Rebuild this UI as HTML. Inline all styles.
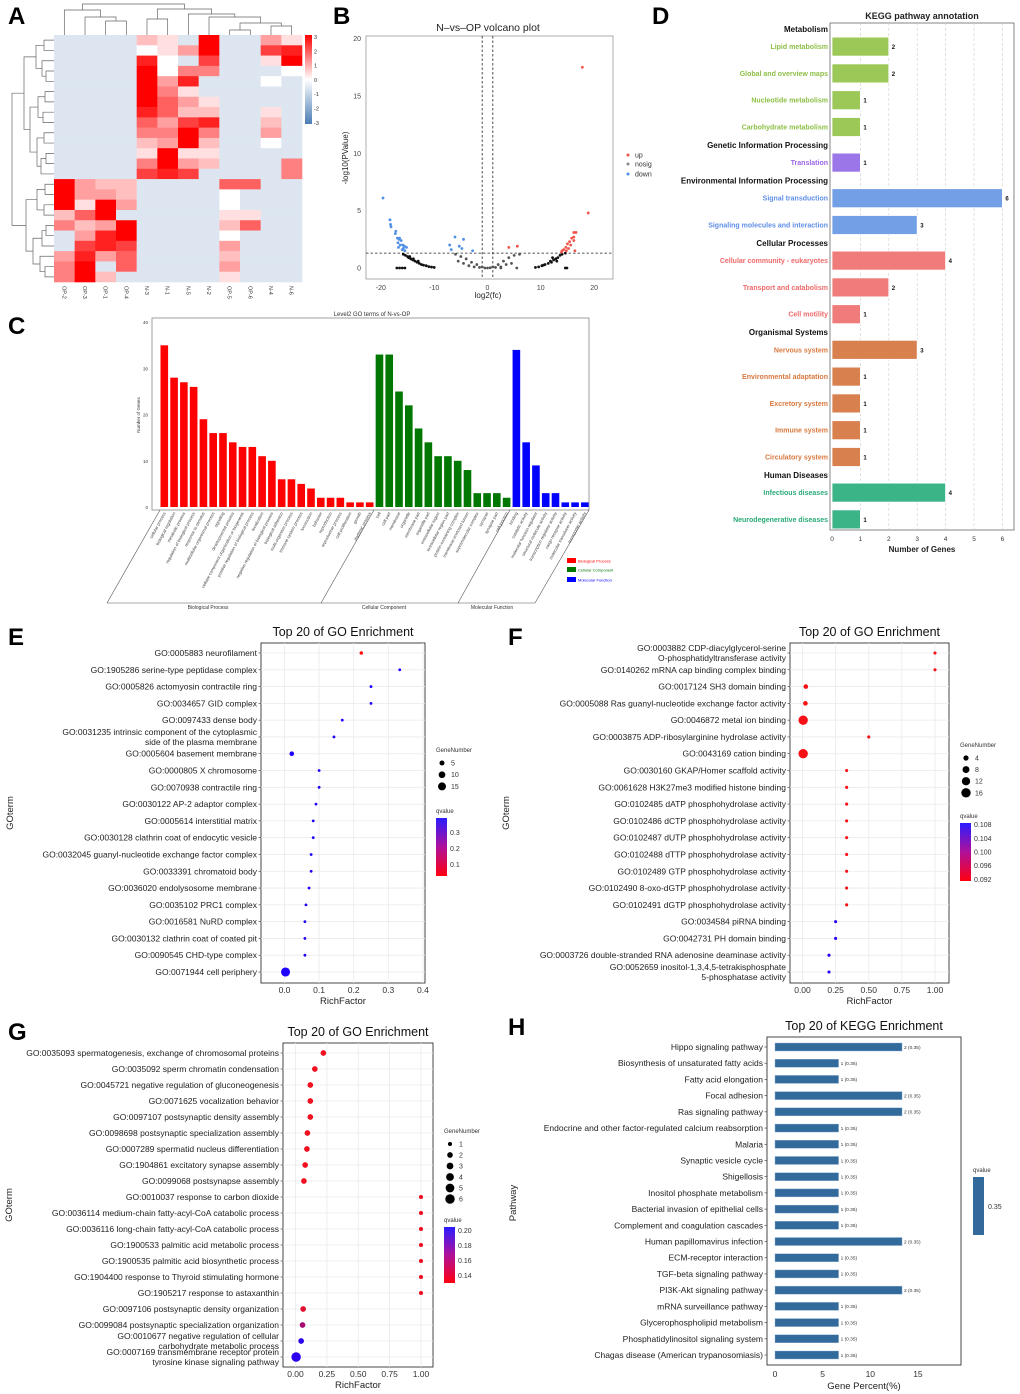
<!DOCTYPE html>
<html><head><meta charset="utf-8"><title>Figure</title>
<style>
html,body{margin:0;padding:0;background:#fff;}
svg{display:block;font-family:"Liberation Sans",Arial,sans-serif;}
</style></head>
<body>
<svg id="fig" width="1020" height="1394" viewBox="0 0 1020 1394" xmlns="http://www.w3.org/2000/svg">
<defs>
<linearGradient id="gHeat" x1="0" y1="0" x2="0" y2="1"><stop offset="0" stop-color="#ff0000"/><stop offset="0.5" stop-color="#ffffff"/><stop offset="1" stop-color="#4a7db4"/></linearGradient>
<linearGradient id="gQ" x1="0" y1="0" x2="0" y2="1"><stop offset="0" stop-color="#2a1cff"/><stop offset="0.5" stop-color="#b0109a"/><stop offset="1" stop-color="#ff0010"/></linearGradient>
</defs>
</svg>
<script>
// ---------- DATA ----------
const heatCols = ['OP-2','OP-3','OP-1','OP-4','N-3','N-1','N-5','N-2','OP-5','OP-6','N-4','N-6'];
const heatRows = ['000032090042','000012490078','000081070029','000091550001','000094800010','000095200000','000096420000','000086330020','000064780030','000055950040','000034930010','000029220000','000059430005','000078700005','943300006600','944300001000','929400001000','369000002200','534900003600','048900001000','078700004000','484600003000','590600004000','593000002000'];

const volDown = [[-19.6,6.1],[-18.3,4.2],[-18.2,3.8],[-18.1,3.6],[-17.2,3.2],[-17.3,3.0],[-16.9,2.6],[-16.5,2.6],[-16.2,2.4],[-16.8,2.2],[-16.4,2.0],[-15.9,2.0],[-15.6,1.9],[-16.7,1.8],[-15.2,1.8],[-16.0,1.6],[-15.5,1.5],[-16.6,2.5],[-15.8,1.7],[-6.1,2.7],[-4.5,2.5],[-5.3,1.9],[-7.1,2.0],[-4.8,1.7],[-6.8,1.6],[-2.8,1.5]];
const volUp = [[17.8,17.5],[18.9,4.8],[16.6,3.1],[16.2,3.1],[16.2,2.7],[15.8,2.6],[16.2,2.4],[15.4,2.3],[15.0,2.1],[14.7,1.8],[14.3,1.6],[14.0,1.5],[13.9,1.4],[15.6,2.0],[16.4,1.5],[15.2,1.7],[14.8,1.5],[4.0,1.8],[5.6,1.9]];
const volNo = [[-15.8,1.2],[-15.4,1.1],[-15.0,1.0],[-14.8,0.9],[-14.4,0.8],[-14.0,0.7],[-13.6,0.6],[-13.2,0.5],[-12.8,0.4],[-12.4,0.3],[-12.0,0.25],[-11.5,0.2],[-11.0,0.12],[-10.5,0.08],[-10.0,0.05],[-14.6,1.0],[-13.9,0.8],[-13.0,0.6],[-17,0],[-16.5,0],[-16,0],[-15.5,0],[-6,1.2],[-5,1.0],[-4,0.8],[-3,0.5],[-2,0.3],[-1,0.1],[0,0],[1,0.1],[2,0.3],[3,0.6],[4,0.9],[5,1.1],[6,1.2],[-5.5,0.6],[-4.5,0.4],[-3.5,0.2],[-2.5,0.1],[-1.5,0.05],[-0.5,0],[0.5,0.02],[1.5,0.05],[2.5,0.1],[3.5,0.3],[4.5,0.4],[5.5,0],[2.5,0],[9,0.05],[9.6,0.1],[10.2,0.2],[10.8,0.3],[11.4,0.4],[12,0.5],[12.4,0.7],[12.8,0.8],[13.2,0.9],[13.6,1.1],[14.0,1.2],[14.6,1.3],[13,0.6],[12.2,0.9],[14.6,0],[14.9,0],[11.8,0.6],[10.5,0.25]];

const goCats = ['cellular process','biological regulation','metabolic process','regulation of biological process','response to stimulus','multicellular organismal process','signaling','developmental process','cellular component organization or biogenesis','positive regulation of biological process','localization','negative regulation of biological process','biological adhesion','multi-organism process','immune system process','locomotion','behavior','reproduction','reproductive process','cell proliferation','growth','rhythmic process','cell','cell part','membrane','organelle','membrane part','organelle part','extracellular region','extracellular region part','protein-containing complex','membrane-enclosed lumen','supramolecular complex','synapse','synapse part','cell junction','binding','catalytic activity','molecular function regulator','structural molecule activity','transcription regulator activity','cargo receptor activity','molecular transducer activity','transporter activity'];
const goCounts = [35,28,27,26,19,16,16,14,13,13,11,10,6,6,5,4,2,2,2,1,1,1,33,33,25,22,17,14,11,11,10,8,3,3,3,2,34,14,9,3,3,1,1,1];
const goGroup = ['BP','BP','BP','BP','BP','BP','BP','BP','BP','BP','BP','BP','BP','BP','BP','BP','BP','BP','BP','BP','BP','BP','CC','CC','CC','CC','CC','CC','CC','CC','CC','CC','CC','CC','CC','CC','MF','MF','MF','MF','MF','MF','MF','MF'];
const goTicks = [0,10,20,30,40];

const keggRows = ['Metabolism','Lipid metabolism','Global and overview maps','Nucleotide metabolism','Carbohydrate metabolism','Genetic Information Processing','Translation','Environmental Information Processing','Signal transduction','Signaling molecules and interaction','Cellular Processes','Cellular community - eukaryotes','Transport and catabolism','Cell motility','Organismal Systems','Nervous system','Environmental adaptation','Excretory system','Immune system','Circulatory system','Human Diseases','Infectious diseases','Neurodegenerative diseases'];
const keggVals = [null,2,2,1,1,null,1,null,6,3,null,4,2,1,null,3,1,1,1,1,null,4,1];
const keggClass = ['h','m','m','m','m','h','g','h','e','e','h','c','c','c','h','o','o','o','o','o','h','d','d'];
const keggTicks = [0,1,2,3,4,5,6];

const eTerms = ['GO:0005883 neurofilament','GO:1905286 serine-type peptidase complex','GO:0005826 actomyosin contractile ring','GO:0034657 GID complex','GO:0097433 dense body','GO:0031235 intrinsic component of the cytoplasmic|side of the plasma membrane','GO:0005604 basement membrane','GO:0000805 X chromosome','GO:0070938 contractile ring','GO:0030122 AP-2 adaptor complex','GO:0005614 interstitial matrix','GO:0030128 clathrin coat of endocytic vesicle','GO:0032045 guanyl-nucleotide exchange factor complex','GO:0033391 chromatoid body','GO:0036020 endolysosome membrane','GO:0035102 PRC1 complex','GO:0016581 NuRD complex','GO:0030132 clathrin coat of coated pit','GO:0090545 CHD-type complex','GO:0071944 cell periphery'];
const eRich = [0.222,0.333,0.25,0.25,0.167,0.143,0.021,0.1,0.1,0.091,0.083,0.083,0.077,0.077,0.071,0.062,0.059,0.059,0.059,0.003];
const eGenes = [2,1,1,1,1,1,4,1,1,1,1,1,1,1,1,1,1,1,1,20];
const eQ = [0.02,0.39,0.39,0.39,0.39,0.39,0.39,0.39,0.39,0.39,0.39,0.39,0.39,0.39,0.39,0.39,0.39,0.39,0.39,0.39];
const eTicks = [0,0.1,0.2,0.3,0.4];
const eTickLabels = ['0.0','0.1','0.2','0.3','0.4'];

const fTerms = ['GO:0003882 CDP-diacylglycerol-serine|O-phosphatidyltransferase activity','GO:0140262 mRNA cap binding complex binding','GO:0017124 SH3 domain binding','GO:0005088 Ras guanyl-nucleotide exchange factor activity','GO:0046872 metal ion binding','GO:0003875 ADP-ribosylarginine hydrolase activity','GO:0043169 cation binding','GO:0030160 GKAP/Homer scaffold activity','GO:0061628 H3K27me3 modified histone binding','GO:0102485 dATP phosphohydrolase activity','GO:0102486 dCTP phosphohydrolase activity','GO:0102487 dUTP phosphohydrolase activity','GO:0102488 dTTP phosphohydrolase activity','GO:0102489 GTP phosphohydrolase activity','GO:0102490 8-oxo-dGTP phosphohydrolase activity','GO:0102491 dGTP phosphohydrolase activity','GO:0034584 piRNA binding','GO:0042731 PH domain binding','GO:0003726 double-stranded RNA adenosine deaminase activity','GO:0052659 inositol-1,3,4,5-tetrakisphosphate|5-phosphatase activity'];
const fRich = [1,1,0.025,0.022,0.005,0.5,0.005,0.333,0.333,0.333,0.333,0.333,0.333,0.333,0.333,0.333,0.25,0.25,0.2,0.2];
const fGenes = [1,1,3,3,16,1,16,1,1,1,1,1,1,1,1,1,1,1,1,1];
const fQ = [0.092,0.092,0.092,0.092,0.092,0.092,0.092,0.092,0.092,0.092,0.092,0.092,0.092,0.092,0.092,0.092,0.108,0.108,0.108,0.108];
const fTicks = [0,0.25,0.5,0.75,1];
const fTickLabels = ['0.00','0.25','0.50','0.75','1.00'];

const gTerms = ['GO:0035093 spermatogenesis, exchange of chromosomal proteins','GO:0035092 sperm chromatin condensation','GO:0045721 negative regulation of gluconeogenesis','GO:0071625 vocalization behavior','GO:0097107 postsynaptic density assembly','GO:0098698 postsynaptic specialization assembly','GO:0007289 spermatid nucleus differentiation','GO:1904861 excitatory synapse assembly','GO:0099068 postsynapse assembly','GO:0010037 response to carbon dioxide','GO:0036114 medium-chain fatty-acyl-CoA catabolic process','GO:0036116 long-chain fatty-acyl-CoA catabolic process','GO:1900533 palmitic acid metabolic process','GO:1900535 palmitic acid biosynthetic process','GO:1904400 response to Thyroid stimulating hormone','GO:1905217 response to astaxanthin','GO:0097106 postsynaptic density organization','GO:0099084 postsynaptic specialization organization','GO:0010677 negative regulation of cellular|carbohydrate metabolic process','GO:0007169 transmembrane receptor protein|tyrosine kinase signaling pathway'];
const gRich = [0.222,0.154,0.118,0.118,0.118,0.095,0.091,0.077,0.067,1,1,1,1,1,1,1,0.061,0.056,0.045,0.005];
const gGenes = [2,2,2,2,2,2,2,2,2,1,1,1,1,1,1,1,2,2,2,6];
const gQ = [0.135,0.135,0.135,0.135,0.135,0.135,0.135,0.135,0.135,0.135,0.135,0.135,0.135,0.135,0.135,0.135,0.14,0.16,0.2,0.2];
const gTicks = [0,0.25,0.5,0.75,1];
const gTickLabels = ['0.00','0.25','0.50','0.75','1.00'];

const hPaths = ['Hippo signaling pathway','Biosynthesis of unsaturated fatty acids','Fatty acid elongation','Focal adhesion','Ras signaling pathway','Endocrine and other factor-regulated calcium reabsorption','Malaria','Synaptic vesicle cycle','Shigellosis','Inositol phosphate metabolism','Bacterial invasion of epithelial cells','Complement and coagulation cascades','Human papillomavirus infection','ECM-receptor interaction','TGF-beta signaling pathway','PI3K-Akt signaling pathway','mRNA surveillance pathway','Glycerophospholipid metabolism','Phosphatidylinositol signaling system','Chagas disease (American trypanosomiasis)'];
const hCounts = [2,1,1,2,2,1,1,1,1,1,1,1,2,1,1,2,1,1,1,1];
const hPercent = [13.33,6.67,6.67,13.33,13.33,6.67,6.67,6.67,6.67,6.67,6.67,6.67,13.33,6.67,6.67,13.33,6.67,6.67,6.67,6.67];
const hQ = ['0.35','0.35','0.35','0.35','0.35','0.35','0.35','0.35','0.35','0.35','0.35','0.35','0.35','0.35','0.35','0.35','0.35','0.35','0.35','0.35'];
const hTicks = [0,5,10,15];

// ---------- HELPERS ----------
const NS='http://www.w3.org/2000/svg';
const svg=document.getElementById('fig');
function mk(tag,attrs,parent,text){const e=document.createElementNS(NS,tag);for(const k in attrs)e.setAttribute(k,attrs[k]);if(text!==undefined)e.textContent=text;(parent||svg).appendChild(e);return e;}
function grp(name){const g=mk('g',{});return g;}
function qColor(t){t=Math.max(0,Math.min(1,t));const r=Math.round(255*(1-t)+30*t),g=Math.round(16*(1-t)),b=Math.round(16*(1-t)+255*t);return `rgb(${r},${g},${b})`;}

[['A',8,24],['B',333,24],['D',652,24],['C',8,334],['E',8,645],['F',508,645],['G',8,1040],['H',508,1035]].forEach(p=>{
  const t=mk('text',{x:p[1],y:p[2],'font-size':24,'font-weight':'bold'},svg,p[0]);
  
  
});

// ---------- PANEL A ----------
(function(){
  const g=grp('heatmap-panel');
  const x0=54,y0=35,cw=(302-54)/12,rh=247/heatRows.length;
  function col(v){if(v===0)return '#dde6f0';const t=(v-1)/8;const c=Math.round(255*(1-t));return `rgb(255,${c},${c})`;}
  heatRows.forEach((row,ri)=>{
    for(let ci=0;ci<row.length;ci++){
      const v=+row[ci];
      const r=mk('rect',{x:x0+ci*cw,y:y0+ri*rh,width:cw+0.3,height:rh+0.3,fill:col(v)},g);
      
      
    }
  });
  heatCols.forEach((c,i)=>{
    const cx=x0+(i+0.5)*cw;
    const t=mk('text',{x:cx-2,y:286,'font-size':5.5,transform:`rotate(90 ${cx-2} 286)`,fill:'#333'},g,c);
    
    
  });
  const cx=i=>x0+(i+0.5)*cw;
  function node(l,r,h){return {l,r,h};}
  function drawTree(n){
    if(typeof n==='number')return {x:cx(n),y:35};
    const a=drawTree(n.l),b=drawTree(n.r);
    const p=mk('path',{d:`M${a.x},${a.y}V${n.h}H${b.x}V${b.y}`,fill:'none',stroke:'#666','stroke-width':0.7},g);
    
    
    return {x:(a.x+b.x)/2,y:n.h};
  }
  drawTree(node(node(0,node(1,node(2,3,21),17),10),node(node(4,5,19),node(6,node(7,node(node(8,9,30),node(10,11,26),23),17),14),9),4));
  const ry=i=>y0+(i+0.5)*rh;
  function drawL(n){
    if(typeof n==='number')return {x:54,y:ry(n)};
    const a=drawL(n.l),b=drawL(n.r);
    const p=mk('path',{d:`M${a.x},${a.y}H${n.h}V${b.y}H${b.x}`,fill:'none',stroke:'#666','stroke-width':0.7},g);
    
    
    return {x:n.h,y:(a.y+b.y)/2};
  }
  const N=node;
  const top=N(N(N(0,1,44),N(2,N(3,4,46),42),36),N(N(N(5,6,45),N(7,8,43),38),N(N(9,10,44),N(N(11,12,46),13,41),37),30),24);
  const bot=N(N(N(14,15,45),N(16,17,44),37),N(N(N(18,19,46),20,42),N(21,N(22,23,45),40),33),26);
  drawL(N(top,bot,12));
  const cb=mk('rect',{x:305,y:35,width:7,height:89,fill:'url(#gHeat)'},g);
  
  
  ['3','2','1','0','-1','-2','-3'].forEach((s,i)=>{
    const t=mk('text',{x:314,y:39+i*14.3,'font-size':5.5,fill:'#333'},g,s);
    
    
  });
})();

// ---------- PANEL B ----------
(function(){
  const g=grp('volcano-panel');
  const X=v=>487.5+v*5.33, Y=v=>268-v*11.47;
  const box=mk('rect',{x:366,y:36,width:247,height:243,fill:'#fff',stroke:'#999','stroke-width':0.8},g);
  
  
  const tt=mk('text',{x:488,y:31,'font-size':10.5,'text-anchor':'middle',fill:'#222'},g,'N\u2013vs\u2013OP volcano plot');
  
  
  [-20,-10,0,10,20].forEach(v=>{
    const t=mk('text',{x:X(v),y:290,'font-size':7,'text-anchor':'middle',fill:'#444'},g,String(v));
    
    
  });
  [0,5,10,15,20].forEach(v=>{
    const t=mk('text',{x:361,y:Y(v)+2.5,'font-size':7,'text-anchor':'end',fill:'#444'},g,String(v));
    
    
  });
  const xl=mk('text',{x:488,y:298,'font-size':8,'text-anchor':'middle',fill:'#222'},g,'log2(fc)');
  
  
  const yl=mk('text',{x:348,y:158,'font-size':8,'text-anchor':'middle',fill:'#222',transform:'rotate(-90 348 158)'},g,'-log10(PValue)');
  
  
  [[X(-1),36,X(-1),279],[X(1),36,X(1),279],[366,Y(1.3),613,Y(1.3)]].forEach(l=>{
    const e=mk('line',{x1:l[0],y1:l[1],x2:l[2],y2:l[3],stroke:'#222','stroke-width':0.8,'stroke-dasharray':'2.5,2'},g);
    
    
  });
  volNo.forEach(p=>{const c=mk('circle',{cx:X(p[0]),cy:Y(p[1]),r:1.4,fill:Math.abs(p[0])>8?'#111':'#555'},g);
    
    });
  volDown.forEach(p=>{const c=mk('circle',{cx:X(p[0]),cy:Y(p[1]),r:1.4,fill:'#4f8fe6'},g);
    
    });
  volUp.forEach(p=>{const c=mk('circle',{cx:X(p[0]),cy:Y(p[1]),r:1.4,fill:'#f0544a'},g);
    
    });
  [['up','#f0544a',155],['nosig','#888',164],['down','#4f8fe6',174]].forEach(l=>{
    const c=mk('circle',{cx:628,cy:l[2],r:1.5,fill:l[1]},g);
    
    
    const t=mk('text',{x:635,y:l[2]+2.5,'font-size':7,fill:'#333'},g,l[0]);
    
    
  });
})();

// ---------- PANEL C ----------
(function(){
  const g=grp('go-level2-panel');
  const Y=v=>507-v*4.62, x0=158, step=9.78, bw=7.6;
  const colors={BP:'#ff0000',CC:'#007700',MF:'#0000ff'};
  const box=mk('rect',{x:152,y:318,width:437,height:192,fill:'none',stroke:'#888','stroke-width':0.8},g);
  
  
  const tt=mk('text',{x:372,y:316,'font-size':6,'text-anchor':'middle',fill:'#333'},g,'Level2 GO terms of N-vs-OP');
  
  
  goTicks.forEach(v=>{
    const t=mk('text',{x:148,y:Y(v)+2,'font-size':4.5,'text-anchor':'end',fill:'#333'},g,String(v));
    
    
  });
  const yl=mk('text',{x:140,y:415,'font-size':4.5,'text-anchor':'middle',fill:'#333',transform:'rotate(-90 140 415)'},g,'Number of Genes');
  
  
  goCounts.forEach((v,i)=>{
    const x=x0+i*step+2.5;
    const r=mk('rect',{x:x,y:Y(v),width:bw,height:507-Y(v),fill:colors[goGroup[i]]},g);
    
    
    const lx=x+bw/2+1.5, ly=513;
    const t=mk('text',{x:lx,y:ly,'font-size':4.2,'text-anchor':'end',fill:'#444',transform:`rotate(-62 ${lx} ${ly})`},g,goCats[i]);
    
    
  });
  [[160,510,107,603],[374,510,321,603],[510,510,458,603],[589,510,535,603],[107,603,535,603]].forEach(l=>{
    const e=mk('line',{x1:l[0],y1:l[1],x2:l[2],y2:l[3],stroke:'#555','stroke-width':0.6},g);
    
    
  });
  [['Biological Process',208],['Cellular Component',384],['Molecular Function',492]].forEach(l=>{
    const t=mk('text',{x:l[1],y:609,'font-size':5,'text-anchor':'middle',fill:'#333'},g,l[0]);
    
    
  });
  [['Biological Process','#ff0000',561],['Cellular Component','#007700',570],['Molecular Function','#0000ff',580]].forEach(l=>{
    const r=mk('rect',{x:567,y:l[2]-3,width:9,height:5,fill:l[1]},g);
    
    
    const t=mk('text',{x:578,y:l[2]+1.5,'font-size':4,fill:l[1]},g,l[0]);
    
    
  });
})();

// ---------- PANEL D ----------
(function(){
  const g=grp('kegg-annotation-panel');
  const X=v=>832+v*28.4;
  const cols={m:['#9bc857','#8dbf45'],g:['#9b76e8','#9b66e8'],e:['#729fe6','#5f8fe6'],c:['#f07b7b','#ee6a6a'],o:['#d8804e','#d8783e'],d:['#3bb487','#2aaa77']};
  const box=mk('rect',{x:830,y:23,width:184,height:507,fill:'#fff',stroke:'#666','stroke-width':0.8},g);
  
  
  keggTicks.forEach(v=>{
    if(v>0){const l=mk('line',{x1:X(v),y1:23,x2:X(v),y2:530,stroke:'#ccc','stroke-width':0.6,'stroke-dasharray':'3,2'},g);
      
      }
    const t=mk('text',{x:X(v),y:541,'font-size':6.5,'text-anchor':'middle',fill:'#333'},g,String(v));
    
    
  });
  const tt=mk('text',{x:922,y:19,'font-size':9,'font-weight':'bold','text-anchor':'middle',fill:'#222'},g,'KEGG pathway annotation');
  
  
  const xl=mk('text',{x:922,y:552,'font-size':8,'font-weight':'bold','text-anchor':'middle',fill:'#222'},g,'Number of Genes');
  
  
  let y=29;
  keggRows.forEach((name,i)=>{
    const cls=keggClass[i];
    if(cls==='h'){
      const t=mk('text',{x:828,y:y+3,'font-size':8,'font-weight':'bold','text-anchor':'end',fill:'#111'},g,name);
      
      
      y+=17.6;
    } else {
      const v=keggVals[i];
      const r=mk('rect',{x:832,y:y-9.5,width:X(v)-832,height:19,fill:cols[cls][0],stroke:'#fff','stroke-width':0.8},g);
      
      
      const t=mk('text',{x:828,y:y+2.5,'font-size':7,'font-weight':'bold','text-anchor':'end',fill:cols[cls][1]},g,name);
      
      
      const vt=mk('text',{x:X(v)+3,y:y+2.5,'font-size':6,'font-weight':'bold',fill:'#111'},g,String(v));
      
      
      y+=(keggClass[i+1]==='h')?18:26.8;
    }
  });
})();

// ---------- DOT PLOTS ----------
function dotPanel(o){
  const g=grp(o.name);
  const X=v=>o.x0+v*o.k;
  const n=o.terms.length, rstep=(o.yLast-o.yFirst)/(n-1);
  const box=mk('rect',{x:o.bx,y:o.by,width:o.bw,height:o.bh,fill:'#fff',stroke:'#333','stroke-width':0.9},g);
  
  
  o.ticks.forEach((v,i)=>{
    const l=mk('line',{x1:X(v),y1:o.by,x2:X(v),y2:o.by+o.bh,stroke:'#eaeaea','stroke-width':0.8},g);
    
    
    const t=mk('text',{x:X(v),y:o.by+o.bh+10,'font-size':8.5,'text-anchor':'middle',fill:'#333'},g,o.tickLabels[i]);
    
    
  });
  o.terms.forEach((term,i)=>{
    const y=o.yFirst+i*rstep;
    const l=mk('line',{x1:o.bx,y1:y,x2:o.bx+o.bw,y2:y,stroke:'#eaeaea','stroke-width':0.8},g);
    
    
    const tk=mk('line',{x1:o.bx-2.5,y1:y,x2:o.bx,y2:y,stroke:'#333','stroke-width':0.6},g);
    
    
    const parts=term.split('|');
    parts.forEach((p,j)=>{
      const ty=y+3+(parts.length===2?(j===0?-5:5):0);
      const t=mk('text',{x:o.bx-4,y:ty,'font-size':8.5,'text-anchor':'end',fill:'#222'},g,p);
      
      
    });
  });
  o.rich.forEach((v,i)=>{
    const y=o.yFirst+i*rstep;
    const c=mk('circle',{cx:X(v),cy:y,r:o.rad(o.genes[i]),fill:qColor((o.q[i]-o.qMin)/(o.qMax-o.qMin))},g);
    
    
  });
  const tt=mk('text',{x:o.bx+o.bw/2,y:o.by-7,'font-size':12.5,'text-anchor':'middle',fill:'#111'},g,'Top 20 of GO Enrichment');
  
  
  const xl=mk('text',{x:o.bx+o.bw/2,y:o.by+o.bh+21,'font-size':9.5,'text-anchor':'middle',fill:'#222'},g,'RichFactor');
  
  
  const yl=mk('text',{x:o.yTitleX,y:o.by+o.bh/2,'font-size':9.5,'text-anchor':'middle',fill:'#222',transform:`rotate(-90 ${o.yTitleX} ${o.by+o.bh/2})`},g,'GOterm');
  
  
  const lx=o.legX;
  const gn=mk('text',{x:lx,y:o.gnY,'font-size':6,fill:'#333'},g,'GeneNumber');
  
  
  o.sizeLeg.forEach((s,i)=>{
    const yy=o.gnY+11+i*o.gnStep;
    const c=mk('circle',{cx:lx+6,cy:yy,r:o.rad(s),fill:'#000'},g);
    
    
    const t=mk('text',{x:lx+15,y:yy+2.5,'font-size':7,fill:'#333'},g,String(s));
    
    
  });
  const qt=mk('text',{x:lx,y:o.qY,'font-size':6,fill:'#333'},g,'qvalue');
  
  
  const bar=mk('rect',{x:lx,y:o.qY+5,width:11,height:o.qH,fill:'url(#gQ)'},g);
  
  
  o.qLabels.forEach(l=>{
    const yy=o.qY+5+o.qH*(1-(l-o.qMin)/(o.qMax-o.qMin));
    const t=mk('text',{x:lx+14,y:yy+2.5,'font-size':7,fill:'#333'},g,o.qFmt(l));
    
    
  });
}
dotPanel({name:'go-enrichment-e',terms:eTerms,rich:eRich,genes:eGenes,q:eQ,ticks:eTicks,tickLabels:eTickLabels,x0:284.5,k:346,bx:261,by:643,bw:164,bh:340,yFirst:653,yLast:972,qMin:0.03,qMax:0.39,rad:n=>0.5+0.9*Math.sqrt(n),yTitleX:13,legX:436,gnY:752,gnStep:11.7,sizeLeg:[5,10,15],qY:813,qH:58,qLabels:[0.1,0.2,0.3],qFmt:v=>v.toFixed(1)});
dotPanel({name:'go-enrichment-f',terms:fTerms,rich:fRich,genes:fGenes,q:fQ,ticks:fTicks,tickLabels:fTickLabels,x0:802.5,k:132.5,bx:790,by:643,bw:159,bh:340,yFirst:653,yLast:972,qMin:0.0915,qMax:0.1085,rad:n=>0.5+1.05*Math.sqrt(n),yTitleX:509,legX:960,gnY:747,gnStep:11.6,sizeLeg:[4,8,12,16],qY:818,qH:58,qLabels:[0.092,0.096,0.1,0.104,0.108],qFmt:v=>v.toFixed(3)});
dotPanel({name:'go-enrichment-g',terms:gTerms,rich:gRich,genes:gGenes,q:gQ,ticks:gTicks,tickLabels:gTickLabels,x0:295.5,k:125.5,bx:283,by:1043,bw:150,bh:324,yFirst:1053,yLast:1357,qMin:0.13,qMax:0.205,rad:n=>0.2+1.85*Math.sqrt(n),yTitleX:12,legX:444,gnY:1133,gnStep:11,sizeLeg:[1,2,3,4,5,6],qY:1222,qH:56,qLabels:[0.14,0.16,0.18,0.2],qFmt:v=>v.toFixed(2)});

// ---------- PANEL H ----------
(function(){
  const g=grp('kegg-enrichment-panel');
  const X=v=>775+v*9.53;
  const y0=1047, step=(1355-1047)/(hPaths.length-1);
  const box=mk('rect',{x:767,y:1037,width:194,height:328,fill:'#fff',stroke:'#333','stroke-width':0.9},g);
  
  
  const tt=mk('text',{x:864,y:1030,'font-size':12.5,'text-anchor':'middle',fill:'#111'},g,'Top 20 of KEGG Enrichment');
  
  
  hPaths.forEach((p,i)=>{
    const y=y0+i*step;
    const tk=mk('line',{x1:764.5,y1:y,x2:767,y2:y,stroke:'#333','stroke-width':0.6},g);
    
    
    const t=mk('text',{x:763,y:y+3,'font-size':8.5,'text-anchor':'end',fill:'#222'},g,p);
    
    
    const r=mk('rect',{x:775,y:y-4,width:X(hPercent[i])-775,height:8,fill:'#336a9c',stroke:'#8fb0d0','stroke-width':0.4},g);
    
    
    const v=mk('text',{x:X(hPercent[i])+2,y:y+1.8,'font-size':4.8,fill:'#333'},g,hCounts[i]+' ('+hQ[i]+')');
    
    
  });
  hTicks.forEach(v=>{
    const t=mk('text',{x:X(v),y:1377,'font-size':8.5,'text-anchor':'middle',fill:'#333'},g,String(v));
    
    
  });
  const xl=mk('text',{x:864,y:1389,'font-size':9.5,'text-anchor':'middle',fill:'#222'},g,'Gene Percent(%)');
  
  
  const yl=mk('text',{x:516,y:1203,'font-size':9.5,'text-anchor':'middle',fill:'#222',transform:'rotate(-90 516 1203)'},g,'Pathway');
  
  
  const qt=mk('text',{x:973,y:1172,'font-size':6,fill:'#333'},g,'qvalue');
  
  
  const bar=mk('rect',{x:973,y:1177,width:11,height:58,fill:'#336a9c'},g);
  
  
  const ql=mk('text',{x:988,y:1209,'font-size':7,fill:'#333'},g,'0.35');
  
  
})();
</script>
</body></html>
